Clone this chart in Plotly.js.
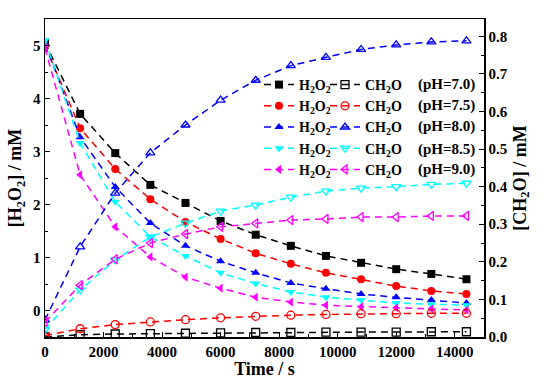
<!DOCTYPE html>
<html>
<head>
<meta charset="utf-8">
<script src="https://cdn.plot.ly/plotly-3.0.1.min.js"></script>
<style>html,body{margin:0;padding:0;background:#fff;}#chart{width:550px;height:390px;}</style>
</head>
<body>
<div id="chart"></div>
<script>
const time = [0, 1200, 2400, 3600, 4800, 6000, 7200, 8400, 9600, 10800, 12000, 13200, 14400];
const xTickVals = [0, 2000, 4000, 6000, 8000, 10000, 12000, 14000];
const xTickText = ['0', '2000', '4000', '6000', '8000', '10000', '12000', '14000'];
const yTickVals = [0, 1, 2, 3, 4, 5];
const yTickText = ['0', '1', '2', '3', '4', '5'];
const y2TickVals = [0, 0.1, 0.2, 0.3, 0.4, 0.5, 0.6, 0.7, 0.8];
const y2TickText = ['0.0', '0.1', '0.2', '0.3', '0.4', '0.5', '0.6', '0.7', '0.8'];

const h2o2_pH70 = [5.05, 3.71, 2.97, 2.37, 2.03, 1.69, 1.43, 1.22, 1.03, 0.90, 0.78, 0.69, 0.59];
const h2o2_pH75 = [5.00, 3.44, 2.67, 2.10, 1.67, 1.35, 1.08, 0.88, 0.71, 0.59, 0.46, 0.37, 0.31];
const h2o2_pH80 = [5.05, 3.27, 2.33, 1.65, 1.22, 0.93, 0.71, 0.52, 0.41, 0.31, 0.25, 0.20, 0.14];
const h2o2_pH85 = [5.10, 3.16, 2.05, 1.39, 1.03, 0.71, 0.51, 0.35, 0.25, 0.20, 0.14, 0.12, 0.10];
const h2o2_pH90 = [4.95, 2.56, 1.58, 1.01, 0.63, 0.42, 0.25, 0.16, 0.10, 0.07, 0.05, 0.03, 0.01];

const ch2o_pH70 = [0.000, 0.006, 0.008, 0.009, 0.010, 0.011, 0.012, 0.012, 0.013, 0.013, 0.013, 0.014, 0.014];
const ch2o_pH75 = [0.004, 0.022, 0.033, 0.040, 0.046, 0.051, 0.055, 0.058, 0.060, 0.062, 0.062, 0.063, 0.063];
const ch2o_pH80 = [0.045, 0.240, 0.383, 0.490, 0.564, 0.630, 0.683, 0.722, 0.744, 0.765, 0.777, 0.785, 0.788];
const ch2o_pH85 = [0.020, 0.125, 0.205, 0.266, 0.303, 0.335, 0.351, 0.372, 0.388, 0.396, 0.400, 0.406, 0.409];
const ch2o_pH90 = [0.040, 0.138, 0.207, 0.250, 0.274, 0.293, 0.302, 0.311, 0.314, 0.319, 0.319, 0.322, 0.322];

const phLabels = ['(pH=7.0)', '(pH=7.5)', '(pH=8.0)', '(pH=8.5)', '(pH=9.0)'];
const colors = ['#000000', '#ff0000', '#0000ff', '#00ffff', '#ff00ff'];
const symbols = ['square', 'circle', 'triangle-up', 'triangle-down', 'triangle-left'];

const h2o2 = [h2o2_pH70, h2o2_pH75, h2o2_pH80, h2o2_pH85, h2o2_pH90];
const ch2o = [ch2o_pH70, ch2o_pH75, ch2o_pH80, ch2o_pH85, ch2o_pH90];

const FONT = '"Liberation Serif", "Times New Roman", serif';
function f(size) { return {family: FONT, size: size, color: '#000000', weight: 'bold'}; }

const traces = [];
for (let i = 0; i < 5; i++) {
  traces.push({
    x: time, y: h2o2[i], type: 'scatter', mode: 'lines+markers',
    name: 'H<sub>2</sub>O<sub>2</sub>', legend: 'legend', yaxis: 'y',
    line: {color: colors[i], width: 1.5, dash: '7px,5px'},
    marker: {symbol: symbols[i], size: 8, color: colors[i]}
  });
}
for (let i = 0; i < 5; i++) {
  traces.push({
    x: time, y: ch2o[i], type: 'scatter', mode: 'lines+markers',
    name: 'CH<sub>2</sub>O', legend: 'legend2', yaxis: 'y2',
    line: {color: colors[i], width: 1.5, dash: '7px,5px'},
    marker: {symbol: symbols[i] + '-open', size: 8, color: colors[i], line: {width: 1.3, color: colors[i]}}
  });
}

const legTopPx = 69;
const rowPx = 20;
const firstRowPx = 84;
const annotations = phLabels.map((t, i) => ({
  text: t, xref: 'paper', yref: 'paper', x: (416 - 45) / 439,
  y: (337 - (firstRowPx + i * rowPx)) / 318,
  xanchor: 'left', yanchor: 'middle', showarrow: false,
  font: f(15)
}));

const layout = {
  width: 550, height: 390,
  margin: {l: 45, r: 66, t: 19, b: 53},
  paper_bgcolor: '#ffffff', plot_bgcolor: '#ffffff',
  font: f(15),
  showlegend: true,
  xaxis: {
    range: [0, 15000], tickmode: 'array', tickvals: xTickVals, ticktext: xTickText,
    ticks: 'inside', ticklen: 5, tickwidth: 1, tickcolor: '#000',
    minor: {tickmode: 'linear', tick0: 0, dtick: 1000, ticks: 'inside', ticklen: 3, tickcolor: '#000'},
    showline: true, linecolor: '#000', linewidth: 1.5, mirror: true,
    showgrid: false, zeroline: false, tickfont: f(15),
    title: {text: 'Time / s', font: f(18), standoff: 4}
  },
  yaxis: {
    range: [-0.5, 5.5], tickmode: 'array', tickvals: yTickVals, ticktext: yTickText,
    ticks: 'inside', ticklen: 5, tickwidth: 1, tickcolor: '#000',
    minor: {tickmode: 'linear', tick0: 0, dtick: 0.5, ticks: 'inside', ticklen: 3, tickcolor: '#000'},
    showline: true, linecolor: '#000', linewidth: 1.5,
    showgrid: false, zeroline: false, tickfont: f(15),
    title: {text: '[H<sub>2</sub>O<sub>2</sub>] / mM', font: f(18), standoff: 6}
  },
  yaxis2: {
    overlaying: 'y', side: 'right',
    range: [0, 0.846], tickmode: 'array', tickvals: y2TickVals, ticktext: y2TickText,
    ticks: 'inside', ticklen: 5, tickwidth: 1, tickcolor: '#000',
    minor: {tickmode: 'linear', tick0: 0, dtick: 0.05, ticks: 'inside', ticklen: 3, tickcolor: '#000'},
    showline: true, linecolor: '#000', linewidth: 1.5,
    showgrid: false, zeroline: false, tickfont: f(15),
    title: {text: '[CH<sub>2</sub>O] / mM', font: f(18), standoff: 6}
  },
  legend: {
    x: (259 - 45) / 439, y: (337 - legTopPx) / 318, xanchor: 'left', yanchor: 'top', bgcolor: 'rgba(0,0,0,0)',
    font: f(14), itemwidth: 30, traceorder: 'normal'
  },
  legend2: {
    x: (325 - 45) / 439, y: (337 - legTopPx) / 318, xanchor: 'left', yanchor: 'top', bgcolor: 'rgba(0,0,0,0)',
    font: f(14), itemwidth: 30, traceorder: 'normal'
  },
  annotations: annotations
};

Plotly.newPlot('chart', traces, layout, {displayModeBar: false, staticPlot: true}).then(gd => {
  // align the pH labels with the rendered legend rows
  const items = Array.from(document.querySelectorAll('.legend .traces'));
  if (items.length === 5) {
    const upd = {};
    items.forEach((e, i) => {
      const pts = e.querySelector('.legendpoints');
      const r = (pts || e).getBoundingClientRect();
      const cy = r.top + r.height / 2;
      upd['annotations[' + i + '].y'] = (337 - cy) / 318;
    });
    Plotly.relayout(gd, upd);
  }
});
</script>
</body>
</html>
